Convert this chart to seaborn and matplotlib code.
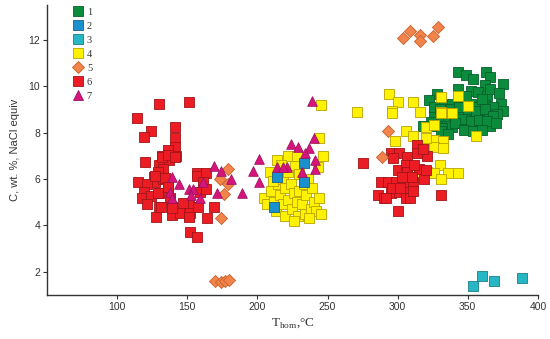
import numpy as np
import pandas as pd
import matplotlib
matplotlib.use("Agg")
import matplotlib.pyplot as plt
import seaborn as sns
from matplotlib.lines import Line2D

# ---------------- data ----------------
g1_T = [343, 349, 354, 363, 366, 375, 362, 343, 352, 357, 364, 374, 375, 328, 322, 333, 339, 347,
        352, 357, 362, 368, 371, 326, 331, 336, 340, 345, 350, 355, 359, 364, 324, 328, 333, 339,
        344, 349, 353, 359, 366, 331, 336, 338, 344, 350, 356, 362, 368, 346, 352, 358, 364, 370,
        326, 330, 336, 341, 347, 354, 360, 343, 349, 360, 366, 372, 318]
g1_C = [10.6, 10.5, 10.3, 10.6, 10.4, 10.1, 10.05, 9.9, 9.8, 9.75, 9.6, 9.25, 8.95, 9.65, 9.4, 9.2, 9.25, 9.4,
        9.25, 9.1, 9.2, 9.1, 8.8, 8.75, 8.6, 8.7, 8.75, 8.8, 8.75, 8.7, 8.75, 8.75, 8.45, 8.3,
        8.2, 8.25, 8.4, 8.45, 8.3, 8.4, 8.3, 8.05, 7.95, 9.0, 9.1, 9.0, 8.95, 9.0, 8.7, 8.6, 8.5, 8.55, 8.5, 8.4,
        9.1, 9.0, 8.85, 8.4, 8.1, 8.05, 8.1, 9.55, 9.6, 9.45, 9.9, 9.7, 8.3]

g2_T = [233, 214, 233, 212]
g2_C = [6.7, 6.1, 5.85, 4.8]

g3_T = [354, 360, 369, 389]
g3_C = [1.4, 1.8, 1.6, 1.75]

g4_T = [205, 207, 210, 212, 213, 215, 216, 218, 218, 220, 220, 222, 222, 224, 225, 226, 227, 228,
        229, 230, 230, 232, 233, 234, 235, 236, 238, 239, 240, 242, 244, 245, 209, 214, 222, 228,
        217, 211, 226, 237, 243, 247, 245, 244, 271,
        294, 300, 311, 296, 296, 316, 320, 326, 306, 311, 298, 321, 326, 332, 331, 331, 343, 350,
        331, 339, 356, 330, 321, 326, 336, 343, 331, 314, 316, 326, 332, 320]
g4_C = [5.2, 4.9, 5.5, 5.0, 4.6, 5.8, 5.3, 6.0, 4.9, 5.6, 4.4, 5.1, 6.3, 5.8, 4.7, 5.4, 6.6, 5.0,
        4.4, 6.2, 5.5, 4.9, 5.8, 4.5, 5.3, 6.0, 4.7, 5.6, 5.0, 4.6, 5.2, 4.5, 6.3, 6.8, 7.0, 7.0,
        6.6, 5.9, 4.2, 4.3, 6.5, 7.0, 9.2, 7.75, 8.9,
        9.65, 9.3, 9.3, 8.95, 8.85, 8.9, 8.25, 8.35, 8.05, 7.85, 7.65, 7.7, 7.7, 7.65, 8.9, 9.55, 9.6, 9.15,
        8.85, 8.85, 7.85, 6.6, 6.3, 6.25, 6.25, 6.25, 6.0, 6.3, 6.1, 7.4, 7.35, 7.75]

g5_T = [304, 309, 316, 316, 325, 329, 170, 174, 177, 180, 179, 173, 179, 176, 174, 293, 289]
g5_C = [12.1, 12.4, 12.2, 11.95, 12.15, 12.55, 1.6, 1.55, 1.6, 1.65, 6.45, 6.0, 5.8, 5.35, 4.3, 8.05, 6.95]

g6_T = [130, 151, 114, 124, 119, 141, 141, 141, 136, 132, 137, 142, 130, 133, 120, 129, 126, 127,
        133, 115, 121, 136, 119, 118, 124, 130, 138, 121, 130, 139, 128, 139, 145, 151, 151, 147,
        157, 152, 157, 132, 136, 141, 127, 134, 136, 129, 131, 139, 152, 158, 151, 157, 163, 161,
        159, 163, 169, 164,
        275, 295, 301, 307, 314, 314, 321, 315, 319, 300, 306, 307, 288, 293, 299, 304, 311, 286,
        290, 295, 301, 307, 306, 309, 300, 331, 297, 303, 310, 296, 302, 312, 318, 292, 311, 320]
g6_C = [9.25, 9.3, 8.65, 8.05, 7.8, 8.25, 7.75, 7.4, 7.25, 7.0, 6.8, 7.0, 6.6, 6.45, 6.75, 6.3, 6.1, 5.85,
        6.0, 5.85, 5.8, 5.65, 5.45, 5.2, 5.25, 5.4, 5.2, 4.9, 4.8, 4.8, 4.35, 4.45, 4.55, 4.9, 4.4, 4.95,
        6.25, 3.7, 3.5, 6.95, 7.05, 6.95, 6.15, 6.05, 5.65, 5.4, 4.8, 4.75, 4.55, 4.8, 4.35, 6.15, 6.25, 5.85,
        5.45, 5.55, 4.8, 4.3,
        6.7, 7.1, 7.1, 6.95, 7.45, 7.1, 7.0, 6.45, 6.0, 6.4, 6.6, 6.3, 5.85, 5.85, 5.85, 5.85, 5.85, 5.3,
        5.2, 5.4, 5.45, 5.45, 5.2, 5.2, 4.6, 5.3, 6.9, 6.1, 6.1, 5.6, 5.6, 6.6, 7.3, 5.2, 5.5, 6.4]

g7_T = [139, 144, 138, 139, 151, 154, 153, 159, 161, 169, 174, 181, 171, 189, 201, 197, 201, 214,
        239, 224, 229, 237, 234, 240, 241, 241, 232, 221, 218]
g7_C = [6.1, 5.8, 5.45, 5.2, 5.55, 5.55, 5.3, 5.2, 5.85, 6.55, 6.35, 6.0, 5.4, 5.4, 6.85, 6.35, 5.85, 6.5,
        9.35, 7.5, 7.4, 7.35, 7.1, 7.75, 6.8, 6.45, 6.3, 6.5, 6.5]

labels = ["1", "2", "3", "4", "5", "6", "7"]
series_T = [g1_T, g2_T, g3_T, g4_T, g5_T, g6_T, g7_T]
series_C = [g1_C, g2_C, g3_C, g4_C, g5_C, g6_C, g7_C]

frames = [pd.DataFrame({"T": t, "C": c, "group": lab}) for t, c, lab in zip(series_T, series_C, labels)]
df = pd.concat(frames, ignore_index=True)

# ---------------- style ----------------
face = {"1": "#0a8c3c", "2": "#1a90cf", "3": "#27b7c4", "4": "#fff200",
        "5": "#f2834a", "6": "#ec1c24", "7": "#d6157c"}
edge = {"1": "#06602a", "2": "#14628e", "3": "#1a7f88", "4": "#b8a200",
        "5": "#c8622c", "6": "#a01418", "7": "#a01060"}
marker = {"1": "s", "2": "s", "3": "s", "4": "s", "5": "D", "6": "s", "7": "^"}
size = {"1": 48, "2": 48, "3": 48, "4": 48, "5": 38, "6": 48, "7": 48}

sns.set_theme(style="white")
plt.rcParams["font.family"] = ["Liberation Sans", "DejaVu Sans"]

fig, ax = plt.subplots(figsize=(5.5, 3.39), dpi=100)
fig.subplots_adjust(left=0.0855, right=0.978, bottom=0.13, top=0.985)

draw_order = ["1", "4", "2", "3", "6", "5", "7"]
for g in draw_order:
    sub = df[df["group"] == g]
    sns.scatterplot(data=sub, x="T", y="C", ax=ax, marker=marker[g], s=size[g],
                    color=face[g], edgecolor=edge[g], linewidth=0.6, legend=False, zorder=3)

ax.set_xlim(50, 400)
ax.set_ylim(1, 13.5)
ax.set_xticks([100, 150, 200, 250, 300, 350, 400])
ax.set_yticks([2, 4, 6, 8, 10, 12])
for s in ["top", "right"]:
    ax.spines[s].set_visible(False)
for s in ["left", "bottom"]:
    ax.spines[s].set_color("#333333")
    ax.spines[s].set_linewidth(1.0)
ax.tick_params(axis="both", which="both", direction="out", length=3, width=0.8,
               color="#333333", labelsize=7.5, labelcolor="#333333", left=True, bottom=True, pad=2)

ax.set_ylabel("C, wt. %, NaCl equiv", fontsize=8, color="#333333", labelpad=6)
ax.set_xlabel(r"T$_{\mathregular{hom}}$,°C", fontsize=9.5, color="#333333",
              family=["Liberation Serif", "DejaVu Serif"], labelpad=3)

# legend
handles = [Line2D([], [], linestyle="none", marker=marker[g], markersize=7 if marker[g] != "D" else 6,
                  markerfacecolor=face[g], markeredgecolor=edge[g], markeredgewidth=0.6)
           for g in labels]
leg = ax.legend(handles, labels, loc="upper left", bbox_to_anchor=(0.045, 1.005), frameon=False,
                handlelength=1.0, handletextpad=0.3, labelspacing=0.45, borderaxespad=0.0,
                prop={"family": "Liberation Serif", "size": 7.5})
for t in leg.get_texts():
    t.set_color("#333333")

fig.savefig("out.png", dpi=100)
